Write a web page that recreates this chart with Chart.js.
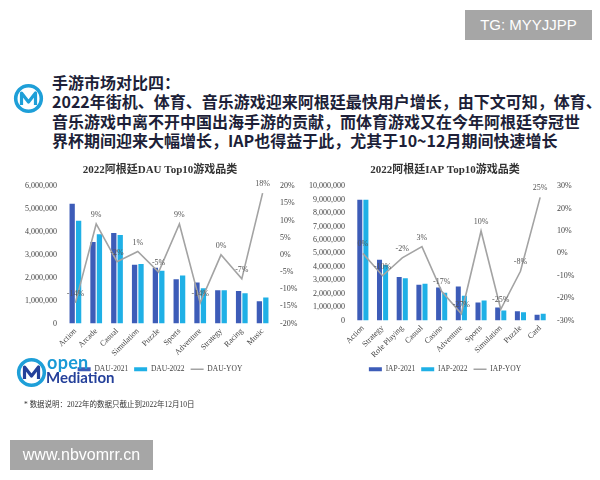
<!DOCTYPE html>
<html lang="zh">
<head>
<meta charset="UTF-8">
<title>阿根廷 DAU / IAP Top10游戏品类</title>
<script src="https://cdn.jsdelivr.net/npm/chart.js"></script>
<style>
  body { margin: 0; width: 600px; height: 480px; background: #fff; position: relative; overflow: hidden; font-family: "Noto Sans CJK SC", sans-serif; }
  .abs { position: absolute; }
  #tg { left: 465px; top: 10px; width: 127px; height: 30px; background: #a6a6a6; color: #fff; font: 15px "Liberation Sans", Arial, sans-serif; line-height: 30px; text-align: center; }
  #site { left: 10px; top: 440px; width: 143px; height: 30px; background: #a6a6a6; color: #fff; font: 16px "Liberation Sans", Arial, sans-serif; line-height: 30px; text-align: center; }
  #headline { left: 52px; top: 73px; font-size: 16px; font-weight: 700; line-height: 19.3px; color: #1d1f38; white-space: nowrap; }
  #note { left: 24px; top: 398px; font: 7.5px "Liberation Serif", "Noto Sans CJK SC", serif; color: #333; white-space: nowrap; }
  #brand-open { left: 47px; top: 351px; font: bold 18px Lato, sans-serif; color: #1a9ad6; letter-spacing: 0.3px; }
  #brand-med { left: 46px; top: 368px; font: bold 15px Lato, sans-serif; color: #24409a; }
  #dauBox { left: 20px; top: 159px; width: 280px; height: 224px; }
  #iapBox { left: 300px; top: 159px; width: 290px; height: 224px; }
</style>
</head>
<body>
<div id="tg" class="abs">TG: MYYJJPP</div>

<svg class="abs" style="left:13px;top:83px" width="31" height="31" viewBox="0 0 31 31">
  <circle cx="15.5" cy="15.5" r="12.8" fill="none" stroke="#1e9fd8" stroke-width="3.6"/>
  <path d="M8.5 22 V10 L15.5 19 L22.5 10 V22" fill="none" stroke="#1e9fd8" stroke-width="3.2" stroke-linejoin="round"/>
</svg>
<div id="headline" class="abs">手游市场对比四：<br>2022年街机、体育、音乐游戏迎来阿根廷最快用户增长，由下文可知，体育、<br>音乐游戏中离不开中国出海手游的贡献，而体育游戏又在今年阿根廷夺冠世<br>界杯期间迎来大幅增长，IAP也得益于此，尤其于10~12月期间快速增长</div>

<div id="dauBox" class="abs"><canvas id="dauChart"></canvas></div>
<div id="iapBox" class="abs"><canvas id="iapChart"></canvas></div>

<svg class="abs" style="left:16px;top:357px" width="31" height="31" viewBox="0 0 31 31">
  <circle cx="15.5" cy="15.5" r="12.8" fill="none" stroke="#1e9fd8" stroke-width="3.6"/>
  <path d="M8.5 22 V10 L15.5 19 L22.5 10 V22" fill="none" stroke="#24409a" stroke-width="3.2" stroke-linejoin="round"/>
</svg>
<div id="brand-open" class="abs">open</div>
<div id="brand-med" class="abs">Mediation</div>

<div id="note" class="abs">* 数据说明：2022年的数据只截止到2022年12月10日</div>
<div id="site" class="abs">www.nbvomrr.cn</div>

<script>
// DAU chart data
const dauCategories = ['Action', 'Arcade', 'Casual', 'Simulation', 'Puzzle', 'Sports', 'Adventure', 'Strategy', 'Racing', 'Music'];
const dau2021 = [5230000, 3560000, 3950000, 2570000, 2440000, 1930000, 1790000, 1450000, 1420000, 970000];
const dau2022 = [4490000, 3900000, 3870000, 2600000, 2300000, 2100000, 1540000, 1450000, 1320000, 1140000];
const dauYoy = [-14, 9, -2, 1, -5, 9, -14, 0, -7, 18];

// IAP chart data
const iapCategories = ['Action', 'Strategy', 'Role Playing', 'Casual', 'Casino', 'Adventure', 'Sports', 'Simulation', 'Puzzle', 'Card'];
const iap2021 = [9000000, 4520000, 3230000, 2660000, 2460000, 2530000, 1340000, 970000, 680000, 420000];
const iap2022 = [9000000, 4140000, 3150000, 2730000, 2060000, 1840000, 1490000, 740000, 620000, 510000];
const iapYoy = [0, -10, -2, 3, -17, -27, 10, -25, -8, 25];

const col2021 = '#3d5cb8';
const col2022 = '#1fb0e6';
const colYoy = '#a3a3a3';
const serif = '"Liberation Serif", "Noto Sans CJK SC", serif';

// percentage labels above the YOY line points
const yoyLabels = {
  id: 'yoyLabels',
  afterDatasetsDraw(chart) {
    const i = chart.data.datasets.findIndex(d => d.type === 'line');
    const meta = chart.getDatasetMeta(i);
    const vals = chart.data.datasets[i].data;
    const ctx = chart.ctx;
    ctx.save();
    ctx.font = '8px ' + serif;
    ctx.fillStyle = '#555';
    ctx.textAlign = 'center';
    ctx.textBaseline = 'bottom';
    meta.data.forEach((pt, k) => ctx.fillText(vals[k] + '%', pt.x, pt.y - 5));
    ctx.restore();
  }
};

function makeChart(id, cfg) {
  const tick = { font: { family: serif, size: 8 }, color: '#444' };
  const noGrid = { display: false, drawTicks: false };
  return new Chart(document.getElementById(id), {
    type: 'bar',
    data: {
      labels: cfg.labels,
      datasets: [
        { label: cfg.names[0], data: cfg.a, backgroundColor: col2021, pointStyle: 'rect', order: 1,
          categoryPercentage: 0.62, barPercentage: 0.82 },
        { label: cfg.names[1], data: cfg.b, backgroundColor: col2022, pointStyle: 'rect', order: 1,
          categoryPercentage: 0.62, barPercentage: 0.82 },
        { type: 'line', label: cfg.names[2], data: cfg.yoy, yAxisID: 'y1', order: 0,
          borderColor: colYoy, backgroundColor: colYoy, borderWidth: 1.6, pointRadius: 0,
          pointStyle: 'line', tension: 0 }
      ]
    },
    options: {
      responsive: true,
      maintainAspectRatio: false,
      animation: false,
      layout: { padding: 0 },
      plugins: {
        title: { display: true, text: cfg.title, color: '#333',
          font: { family: serif, size: 11, weight: 'bold' }, padding: { top: 5, bottom: 9 } },
        legend: { position: 'bottom',
          labels: { usePointStyle: true, pointStyleWidth: 13, boxHeight: 4, padding: 6,
            font: { family: serif, size: 7.5 }, color: '#444',
            sort: (p, q) => p.datasetIndex - q.datasetIndex } },
        tooltip: { enabled: false }
      },
      scales: {
        x: { grid: noGrid, border: { display: false },
          ticks: Object.assign({ minRotation: 45, maxRotation: 45, padding: 3, autoSkip: false }, tick),
          afterFit: s => { s.height = cfg.xh; } },
        y: { position: 'left', min: 0, max: cfg.max, grid: noGrid, border: { display: false },
          ticks: Object.assign({ stepSize: 1000000, padding: 8, callback: v => v.toLocaleString('en-US') }, tick),
          afterFit: s => { s.width = cfg.lw; } },
        y1: { position: 'right', min: cfg.pmin, max: cfg.pmax, grid: noGrid, border: { display: false },
          ticks: Object.assign({ stepSize: cfg.pstep, padding: 7, callback: v => v + '%' }, tick),
          afterFit: s => { s.width = cfg.rw; } }
      }
    },
    plugins: [yoyLabels]
  });
}

makeChart('dauChart', {
  labels: dauCategories, a: dau2021, b: dau2022, yoy: dauYoy,
  names: ['DAU-2021', 'DAU-2022', 'DAU-YOY'],
  title: '2022阿根廷DAU Top10游戏品类',
  max: 6000000, pmin: -20, pmax: 20, pstep: 5, lw: 45, rw: 27, xh: 36
});

makeChart('iapChart', {
  labels: iapCategories, a: iap2021, b: iap2022, yoy: iapYoy,
  names: ['IAP-2021', 'IAP-2022', 'IAP-YOY'],
  title: '2022阿根廷IAP Top10游戏品类',
  max: 10000000, pmin: -30, pmax: 30, pstep: 10, lw: 53, rw: 40, xh: 39
});
</script>
</body>
</html>
